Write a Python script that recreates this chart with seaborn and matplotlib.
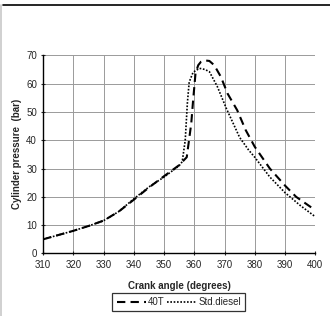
import matplotlib
matplotlib.use("Agg")
import matplotlib.pyplot as plt
from matplotlib.lines import Line2D
import seaborn as sns

sns.set_style("white")
plt.rcParams["font.family"] = ["Liberation Sans", "DejaVu Sans"]

# crank angle (deg) and pressure (bar)
angle_40t = [310, 315, 320, 325, 330, 335, 340, 345, 350, 355, 357.5, 359, 359.6,
             360.4, 361.3, 362.2, 363.5, 365, 366.6, 368.8, 371, 374.2, 377, 380,
             385, 390, 393.7, 400]
p_40t = [5, 6.5, 8, 9.7, 11.6, 14.8, 19, 23.3, 27.3, 31.2, 34, 46, 54,
         63.6, 66.5, 67.7, 68.2, 68, 66.5, 62.4, 56.5, 50.6, 43.6, 37.7,
         30, 24, 20, 15.3]

angle_std = [310, 315, 320, 325, 330, 335, 340, 345, 350, 355, 356, 357, 357.7,
             358.3, 359.6, 361.7, 363.5, 365, 367.6, 370.7, 375, 378, 380, 385,
             390, 395, 400]
p_std = [5, 6.5, 8, 9.7, 11.6, 14.8, 19.3, 23.5, 27, 31, 32.4, 40, 53,
         60.5, 64, 65.4, 65, 64.2, 59, 51, 41, 36.5, 34, 27,
         21.5, 17, 13]

fig = plt.figure(figsize=(3.3, 3.16), dpi=100)
ax = fig.add_axes([0.131, 0.198, 0.824, 0.627])

sns.lineplot(x=angle_40t, y=p_40t, ax=ax, sort=False, color="black",
             linewidth=1.5, label="40T")
sns.lineplot(x=angle_std, y=p_std, ax=ax, sort=False, color="black",
             linewidth=1.2, label="Std.diesel")
ax.lines[0].set_dashes([4, 2.5])
ax.lines[1].set_dashes([1, 1])

ax.set_xlim(310, 400)
ax.set_ylim(0, 70)
ax.set_xticks(range(310, 401, 10))
ax.set_yticks(range(0, 71, 10))
ax.grid(True, color="#9a9a9a", linewidth=0.7)
ax.set_axisbelow(True)
for side in ["top", "right"]:
    ax.spines[side].set_visible(False)
for side in ["left", "bottom"]:
    ax.spines[side].set_color("black")
    ax.spines[side].set_linewidth(1)
ax.tick_params(axis="both", labelsize=7, length=3, width=0.8, direction="inout",
               left=True, bottom=True, pad=3)
ax.set_xlabel("Crank angle (degrees)", fontsize=7, fontweight="bold", labelpad=8)
ax.set_ylabel("Cylinder pressure  (bar)", fontsize=7, fontweight="bold", labelpad=3)

leg = ax.legend(loc="center", bbox_to_anchor=(0.542, 0.044), bbox_transform=fig.transFigure,
                ncol=2, fontsize=7, frameon=True, fancybox=False, edgecolor="black",
                handlelength=3.0, handletextpad=0.2, columnspacing=0.3,
                borderpad=0.45, borderaxespad=0)
leg.get_frame().set_linewidth(0.9)

# border left over from the original crop
fig.add_artist(Line2D([0.01, 1.0], [0.984, 0.984], color="black", linewidth=1.2))
fig.add_artist(Line2D([0.004, 0.004], [0.0, 0.984], color="#c8c8c8", linewidth=1.2))

fig.savefig("out.png", dpi=100)
